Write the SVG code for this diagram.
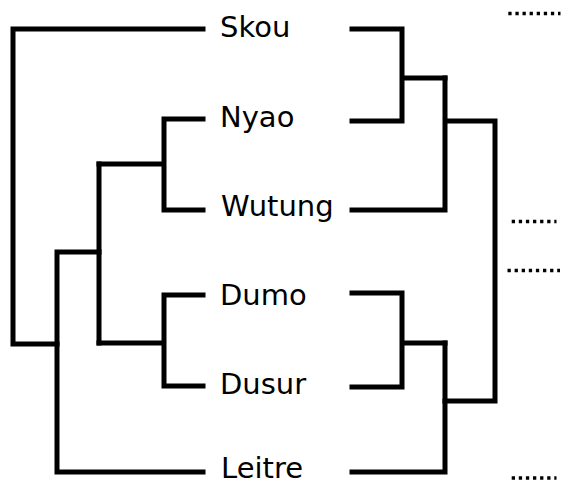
<svg xmlns="http://www.w3.org/2000/svg" width="561" height="481" viewBox="0 0 561 481">
<style>
.e{fill:none;stroke:#000;stroke-width:5;stroke-linejoin:miter;stroke-linecap:square}
.d{fill:none;stroke:#000;stroke-width:3.3;stroke-dasharray:3.3 3.8}
text{font-family:"DejaVu Sans",sans-serif;font-size:29px;fill:#000}
</style>
<rect width="561" height="481" fill="#fff"/>
<g id="connectors">
<path class="e" d="M203,29 H13 V344 H57"/>
<path class="e" d="M203,472 H57 V252 H99"/>
<path class="e" d="M99,164 V343"/>
<path class="e" d="M203,119 H164 V210 H203 M164,164 H99"/>
<path class="e" d="M203,295 H164 V386 H203 M164,343 H99"/>
<path class="e" d="M352,29 H402 V121 H352 M402,78 H445"/>
<path class="e" d="M352,210 H445 V78 M445,121 H495 V401 H445"/>
<path class="e" d="M352,293 H402 V387 H352 M402,343 H445"/>
<path class="e" d="M352,472 H445 V343"/>
<path class="d" d="M508.3,13.5 H560.5"/>
<path class="d" d="M511.7,221.5 H556.5"/>
<path class="d" d="M507.5,270.5 H560"/>
<path class="d" d="M511.7,478 H556.5"/>
</g>
<g id="Skou"><text x="220" y="36.5">Skou</text></g>
<g id="Nyao"><text x="220" y="126.5">Nyao</text></g>
<g id="Wutung"><text x="221" y="215.5">Wutung</text></g>
<g id="Dumo"><text x="220" y="304.5">Dumo</text></g>
<g id="Dusur"><text x="220" y="393.5">Dusur</text></g>
<g id="Leitre"><text x="221" y="477.5">Leitre</text></g>
</svg>
